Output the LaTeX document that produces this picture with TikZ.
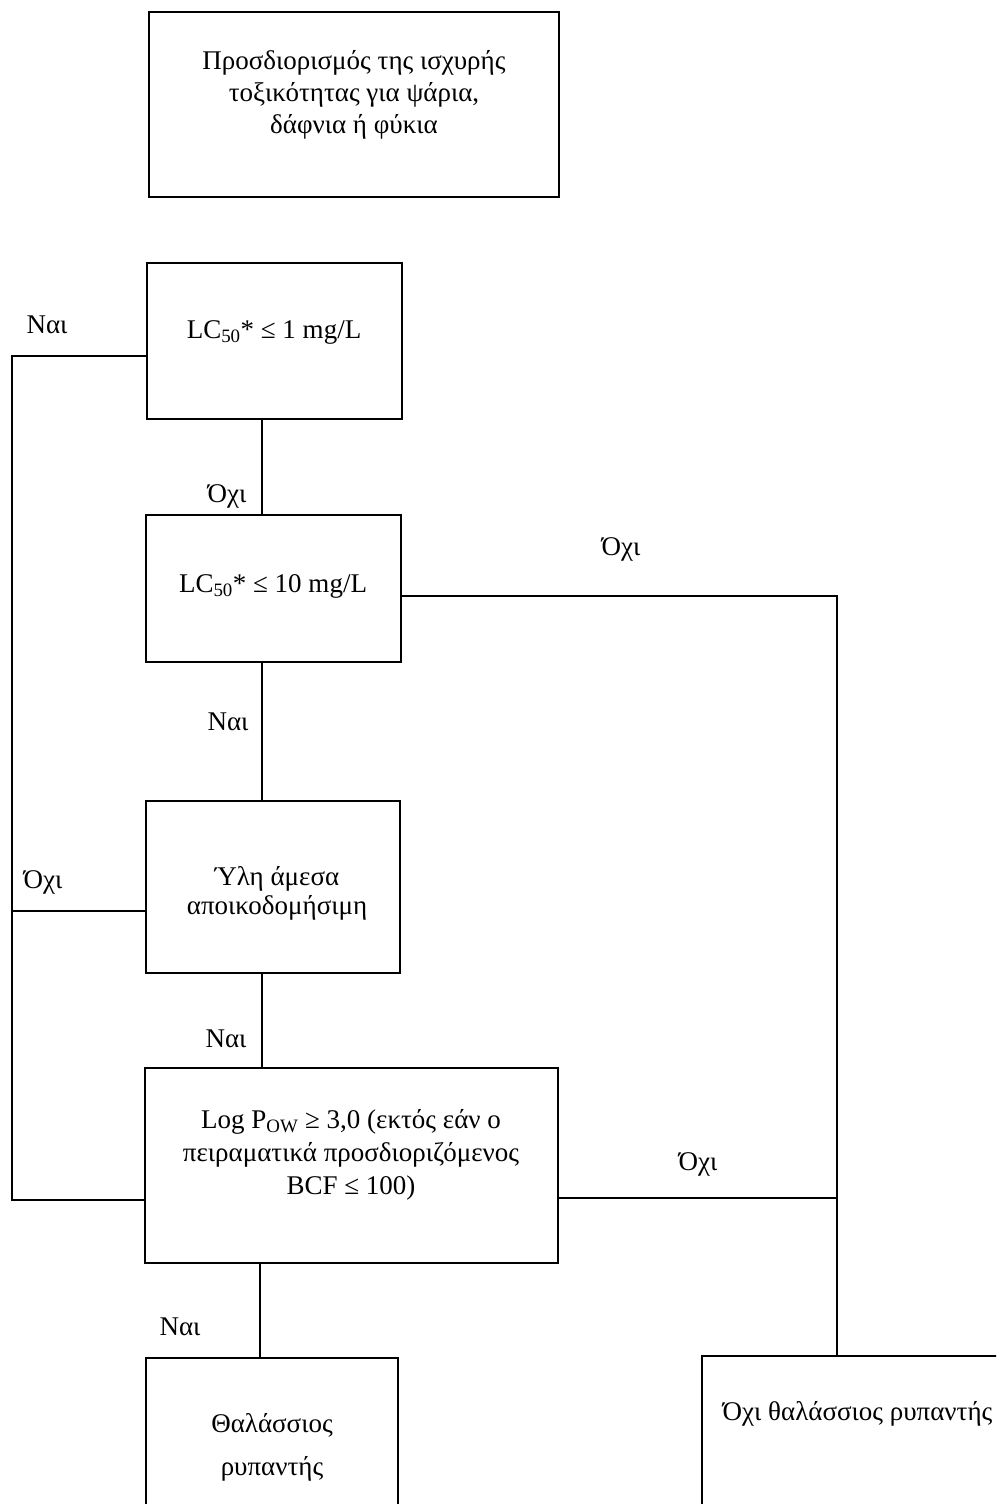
\documentclass[tikz,border=0pt]{standalone}
\usepackage{fontspec}
\setmainfont{Liberation Serif}
\begin{document}
\begin{tikzpicture}[x=1pt,y=-1pt,line width=1.4pt,
  box/.style={draw,rectangle,inner sep=0pt},
  txt/.style={font=\fontsize{27}{32}\selectfont,align=center,inner sep=0pt},
  lbl/.style={font=\fontsize{27}{30}\selectfont,inner sep=0pt,anchor=base}]
\useasboundingbox (0,0) rectangle (996,1504);
\clip (0,0) rectangle (996,1504);
% boxes
\node[box,minimum width=410,minimum height=185] (top) at (354,104.5) {};
\node[box,minimum width=255,minimum height=156] (b1) at (274.5,341) {};
\node[box,minimum width=255,minimum height=147] (b2) at (273.5,588.5) {};
\node[box,minimum width=254,minimum height=172] (b3) at (273,887) {};
\node[box,minimum width=413,minimum height=195] (b4) at (351.5,1165.5) {};
\node[box,minimum width=252,minimum height=162] (b5) at (272,1439) {};
\node[box,minimum width=310,minimum height=164] (b6) at (857,1438) {};
% box texts
\node[txt] (topt) at (354,95) {Προσδιορισμός της ισχυρής\\τοξικότητας για ψάρια,\\δάφνια ή φύκια};
\node[txt] (b1t) at (274,332) {LC\textsubscript{50}* ≤ 1 mg/L};
\node[txt] (b2t) at (273,586) {LC\textsubscript{50}* ≤ 10 mg/L};
\node[txt,font=\fontsize{27}{29}\selectfont] (b3t) at (277,893) {Ύλη άμεσα\\αποικοδομήσιμη};
\node[txt,font=\fontsize{27}{33}\selectfont] (b4t) at (351,1155) {Log P\textsubscript{OW} ≥ 3,0 (εκτός εάν ο\\πειραματικά προσδιοριζόμενος\\BCF ≤ 100)};
\node[txt,font=\fontsize{27}{43}\selectfont] (b5t) at (272,1447) {Θαλάσσιος\\ρυπαντής};
\node[txt,anchor=base west] (b6t) at (722,1420) {Όχι θαλάσσιος ρυπαντής};
% helper coordinates
\coordinate (spine) at (262,0);
\coordinate (spineb) at (260,0);
\coordinate (L1) at (12,356);
\coordinate (L2) at (12,911);
\coordinate (L3) at (12,1200);
\coordinate (R1) at (837,596);
\coordinate (R2) at (837,1198);
% connectors
\draw (b1.south -| spine) -- (b2.north -| spine);
\draw (b2.south -| spine) -- (b3.north -| spine);
\draw (b3.south -| spine) -- (b4.north -| spine);
\draw (b4.south -| spineb) -- (b5.north -| spineb);
\draw (b1.west |- L1) -- (L1) -- (L3) -- (b4.west |- L3);
\draw (L2) -- (b3.west |- L2);
\draw (b2.east |- R1) -- (R1) -- (b6.north -| R1);
\draw (b4.east |- R2) -- (R2);
% labels
\node[lbl] (l1) at (47,333) {Ναι};
\node[lbl] (l2) at (227,502) {Όχι};
\node[lbl] (l3) at (621,555) {Όχι};
\node[lbl] (l4) at (228,730) {Ναι};
\node[lbl] (l5) at (43,888) {Όχι};
\node[lbl] (l6) at (226,1047) {Ναι};
\node[lbl] (l7) at (698,1170) {Όχι};
\node[lbl] (l8) at (180,1335) {Ναι};
\end{tikzpicture}
\end{document}
